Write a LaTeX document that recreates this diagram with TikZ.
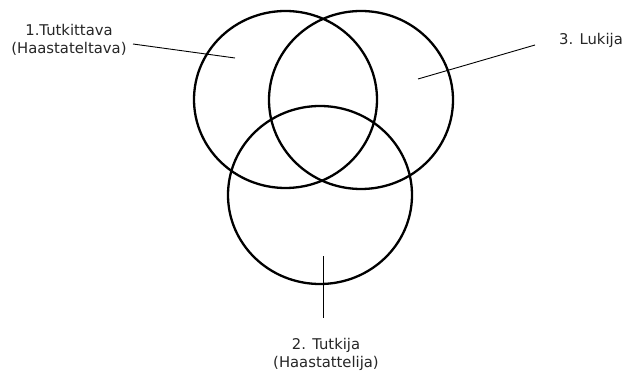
\documentclass[tikz,border=0pt]{standalone}
\usepackage{fontspec}
\setmainfont{DejaVu Sans}
\begin{document}
\begin{tikzpicture}[x=1pt,y=-1pt,
  ring/.style={draw=black,line width=2.3pt},
  lead/.style={draw=black,line width=0.9pt},
  lbl/.style={font=\fontsize{14.8}{18}\selectfont,align=center,inner sep=0pt,text=black!85}]
\useasboundingbox (0,0) rectangle (624,371);
\fill[white] (0,0) rectangle (624,371);
\draw[ring] (285.5,99.5) ellipse [x radius=91.5,y radius=88.5];
\draw[ring] (361,100) ellipse [x radius=92,y radius=89];
\draw[ring] (320,195) ellipse [x radius=92,y radius=89];
\node[lbl] (t1) at (69,40) {1.Tutkittava\\(Haastateltava)};
\node[lbl] (t3) at (591,40) {3. Lukija};
\node[lbl] (t2) at (326,354) {2. Tutkija\\(Haastattelija)};
\coordinate (a1) at (133,44);
\coordinate (b1) at (235,58);
\coordinate (a3) at (535,45);
\coordinate (b3) at (418,79);
\coordinate (a2) at (323,318);
\coordinate (b2) at (323,256);
\draw[lead] (a1) -- (b1);
\draw[lead] (a3) -- (b3);
\draw[lead] (a2) -- (b2);
\end{tikzpicture}
\end{document}
